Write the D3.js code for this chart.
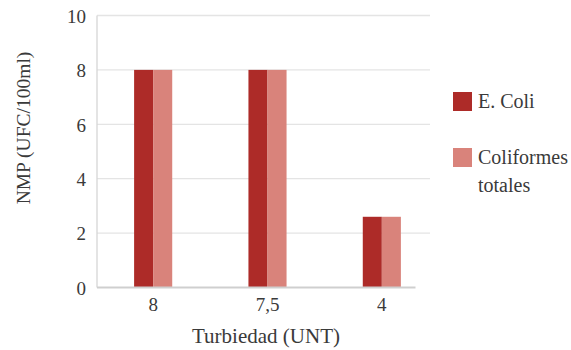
<!DOCTYPE html>
<html>
<head>
<meta charset="utf-8">
<script src="https://cdn.jsdelivr.net/npm/d3@7"></script>
</head>
<body style="margin:0;background:#fff">
<svg id="chart" width="571" height="350" font-family="Liberation Serif" style="display:block"></svg>
<script>
const categories = ["8", "7,5", "4"];
const seriesNames = ["E. Coli", "Coliformes totales"];
const eColi = [8, 8, 2.6];
const coliformes = [8, 8, 2.6];
const yTicks = [0, 2, 4, 6, 8, 10];
const colors = ["#AD2B28", "#D9837B"];
const xTitle = "Turbiedad (UNT)";
const yTitle = "NMP (UFC/100ml)";

(function(){
const FONT = "Liberation Serif";
const TXT = "#3a3a3a";
const svg = d3.select("#chart");
const plotLeft = 97, plotTop = 15.5, plotBottom = 287.5, gridRight = 430, baseRight = 415.5;

const y = d3.scaleLinear().domain([0, 10]).range([plotBottom, plotTop]);
const x = d3.scaleBand().domain(categories).range([96, 439]).padding(0);
const gw = x.bandwidth() / 3;
const x1 = d3.scaleBand().domain(seriesNames).range([x.bandwidth()/2 - gw/2, x.bandwidth()/2 + gw/2]).padding(0);

svg.append("g").selectAll("line").data(yTicks.filter(d => d > 0)).join("line")
  .attr("x1", plotLeft).attr("x2", gridRight)
  .attr("y1", d => y(d)).attr("y2", d => y(d))
  .attr("stroke", "#e4e4e4").attr("stroke-width", 1.3);

svg.append("line").attr("x1", plotLeft).attr("x2", plotLeft).attr("y1", y(10)).attr("y2", y(0))
  .attr("stroke", "#d6d6d6").attr("stroke-width", 1.3);

const data = categories.map((c, i) => ({cat: c, vals: [eColi[i], coliformes[i]]}));
const groups = svg.append("g").selectAll("g").data(data).join("g")
  .attr("transform", d => `translate(${x(d.cat)},0)`);
groups.selectAll("rect").data(d => d.vals.map((v, j) => ({name: seriesNames[j], v, j}))).join("rect")
  .attr("x", d => x1(d.name))
  .attr("width", x1.bandwidth())
  .attr("y", d => y(d.v))
  .attr("height", d => y(0) - y(d.v))
  .attr("fill", d => colors[d.j]);

svg.append("line").attr("x1", plotLeft).attr("x2", baseRight).attr("y1", y(0)).attr("y2", y(0))
  .attr("stroke", "#cfcfcf").attr("stroke-width", 2);

const yAxis = d3.axisLeft(y).tickValues(yTicks).tickSize(0).tickPadding(11);
const ya = svg.append("g").attr("transform", `translate(${plotLeft},0)`).call(yAxis)
  .attr("font-family", FONT).attr("font-size", 19);
ya.select(".domain").remove();
ya.selectAll("text").attr("font-family", FONT).attr("font-size", 19).attr("fill", TXT).attr("dy", "0.36em");

const xAxis = d3.axisBottom(x).tickSize(0).tickPadding(10);
const xa = svg.append("g").attr("transform", `translate(0,${y(0)})`).call(xAxis)
  .attr("font-family", FONT).attr("font-size", 19);
xa.select(".domain").remove();
xa.selectAll("text").attr("font-family", FONT).attr("font-size", 19).attr("fill", TXT).attr("dy", "0.72em");

svg.append("text").attr("x", 266).attr("y", 343).attr("text-anchor", "middle")
  .attr("font-family", FONT).attr("font-size", 21).attr("fill", TXT).text(xTitle);
svg.append("text").attr("transform", "translate(30,128) rotate(-90)").attr("text-anchor", "middle")
  .attr("font-family", FONT).attr("font-size", 19.5).attr("fill", TXT).text(yTitle);

const legendY = [92, 148];
const leg = svg.append("g").selectAll("g").data(seriesNames).join("g")
  .attr("transform", (d, i) => `translate(453,${legendY[i]})`);
leg.append("rect").attr("width", 19).attr("height", 19).attr("fill", (d, i) => colors[i]);
leg.append("text").attr("x", 25).attr("y", 16)
  .attr("font-family", FONT).attr("font-size", 20).attr("fill", TXT)
  .each(function(d) {
    const words = d === "Coliformes totales" ? ["Coliformes", "totales"] : [d];
    d3.select(this).selectAll("tspan").data(words).join("tspan")
      .attr("x", 25).attr("dy", (w, k) => k === 0 ? 0 : 27.5).text(w => w);
  });
})();
</script>
</body>
</html>
